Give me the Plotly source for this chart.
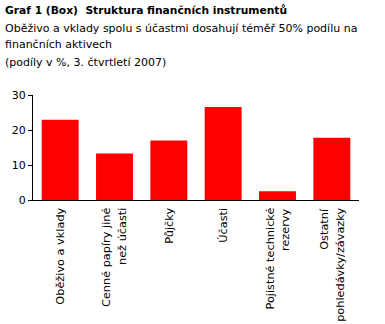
import plotly.graph_objects as go

categories = ["Oběživo a vklady", "Cenné papíry jiné<br>než účasti", "Půjčky", "Účasti",
              "Pojistné technické<br>rezervy", "Ostatní<br>pohledávky/závazky"]
values = [22.9, 13.3, 17.0, 26.6, 2.5, 17.8]
y_ticks = [0, 10, 20, 30]
title_lines = [
    "<b>Graf 1 (Box)  Struktura finančních instrumentů</b>",
    "Oběživo a vklady spolu s účastmi dosahují téměř 50% podílu na",
    "finančních aktivech",
    "(podíly v %, 3. čtvrtletí 2007)",
]

W, H = 385, 324
ml, mr, mt, mb = 33, 26, 95, 124
ph = H - mt - mb

FONT = "DejaVu Sans, Verdana, sans-serif"
x_idx = list(range(len(categories)))

fig = go.Figure(go.Bar(x=x_idx, y=values, marker=dict(color="#FF0000", line=dict(width=0)),
                       hoverinfo="skip"))

annotations = []
title_y_px = [10, 28, 45, 62]
for line, ypx in zip(title_lines, title_y_px):
    bold = line.startswith("<b>")
    annotations.append(dict(text=line, xref="paper", yref="paper", x=0, xshift=-ml + 3,
                            y=(H - mb - ypx) / ph, xanchor="left", yanchor="middle",
                            showarrow=False,
                            font=dict(family=FONT, size=10.7 if bold else 11, color="black")))
for i, c in zip(x_idx, categories):
    parts = c.split("<br>")
    n = len(parts)
    for k, p in enumerate(parts):
        annotations.append(dict(text=p, x=i, y=0, xref="x", yref="y", textangle=-90,
                                xanchor="center", yanchor="top", yshift=-6,
                                xshift=(k - (n - 1) / 2) * 16, showarrow=False,
                                font=dict(family=FONT, size=11.3, color="black")))

fig.update_layout(
    width=W, height=H,
    margin=dict(l=ml, r=mr, t=mt, b=mb),
    paper_bgcolor="white", plot_bgcolor="white",
    bargap=0.32,
    showlegend=False,
    font=dict(family=FONT, size=11, color="black"),
    annotations=annotations,
    xaxis=dict(range=[-0.5, len(categories) - 0.5], showticklabels=False, ticks="",
               showline=True, linecolor="black", linewidth=1, showgrid=False, zeroline=False,
               fixedrange=True),
    yaxis=dict(range=[0, 30], tickvals=y_ticks, ticks="outside", ticklen=4, tickcolor="black",
               showline=True, linecolor="black", linewidth=1, showgrid=False, zeroline=False,
               tickfont=dict(family=FONT, size=11, color="black"), fixedrange=True),
)

fig.write_html("out.html", config={"displayModeBar": False})
